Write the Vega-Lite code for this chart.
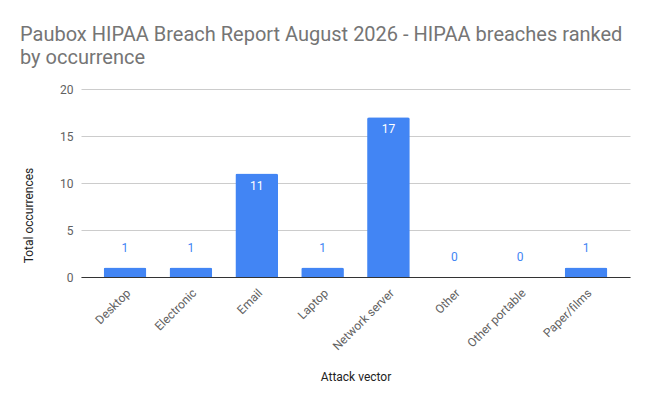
{
  "$schema": "https://vega.github.io/schema/vega-lite/v6.json",
  "autosize": "none",
  "width": 549,
  "height": 188,
  "padding": {"left": 81, "top": 89, "right": 21, "bottom": 126},
  "background": "white",
  "title": {
    "text": ["Paubox HIPAA Breach Report August 2026 - HIPAA breaches ranked", "by occurrence"],
    "anchor": "start",
    "frame": "group",
    "orient": "top",
    "dx": -61,
    "offset": 15,
    "font": "Roboto",
    "fontSize": 20,
    "fontWeight": "normal",
    "color": "#757575",
    "lineHeight": 23
  },
  "data": {
    "values": [
      {"vector": "Desktop", "count": 1},
      {"vector": "Electronic", "count": 1},
      {"vector": "Email", "count": 11},
      {"vector": "Laptop", "count": 1},
      {"vector": "Network server", "count": 17},
      {"vector": "Other", "count": 0},
      {"vector": "Other portable", "count": 0},
      {"vector": "Paper/films", "count": 1}
    ]
  },
  "encoding": {
    "x": {
      "field": "vector",
      "type": "nominal",
      "sort": null,
      "title": "Attack vector",
      "scale": {"paddingInner": 0.352, "paddingOuter": 0.344},
      "axis": {
        "labelAngle": -45,
        "labelFont": "Roboto",
        "labelFontSize": 12,
        "labelColor": "#616161",
        "labelPadding": 10,
        "ticks": false,
        "domain": true,
        "domainColor": "#333333",
        "domainWidth": 1,
        "titleFont": "Roboto",
        "titleFontSize": 12,
        "titleFontWeight": "normal",
        "titleColor": "#222222",
        "titleY": 99,
        "titleBaseline": "middle"
      }
    },
    "y": {
      "field": "count",
      "type": "quantitative",
      "title": "Total occurrences",
      "scale": {"domain": [0, 20]},
      "axis": {
        "values": [0, 5, 10, 15, 20],
        "domain": false,
        "ticks": false,
        "gridColor": "#cccccc",
        "labelFont": "Roboto",
        "labelFontSize": 12,
        "labelColor": "#616161",
        "labelPadding": 8,
        "titleFont": "Roboto",
        "titleFontSize": 12,
        "titleFontWeight": "normal",
        "titleColor": "#222222",
        "titleX": -53,
        "titleY": 126,
        "titleAngle": -90,
        "titleBaseline": "middle",
        "titleAlign": "center"
      }
    }
  },
  "layer": [
    {
      "mark": {"type": "bar", "color": "#4285f4", "cornerRadiusTopLeft": 2, "cornerRadiusTopRight": 2}
    },
    {
      "transform": [{"filter": "datum.count < 5"}],
      "mark": {"type": "text", "font": "Roboto", "fontSize": 12, "color": "#4285f4", "baseline": "middle", "dy": -20},
      "encoding": {"text": {"field": "count", "type": "quantitative"}}
    },
    {
      "transform": [{"filter": "datum.count >= 5"}],
      "mark": {"type": "text", "font": "Roboto", "fontSize": 12, "color": "#ffffff", "baseline": "middle", "dy": 12},
      "encoding": {"text": {"field": "count", "type": "quantitative"}}
    }
  ],
  "config": {
    "view": {"stroke": null}
  }
}
